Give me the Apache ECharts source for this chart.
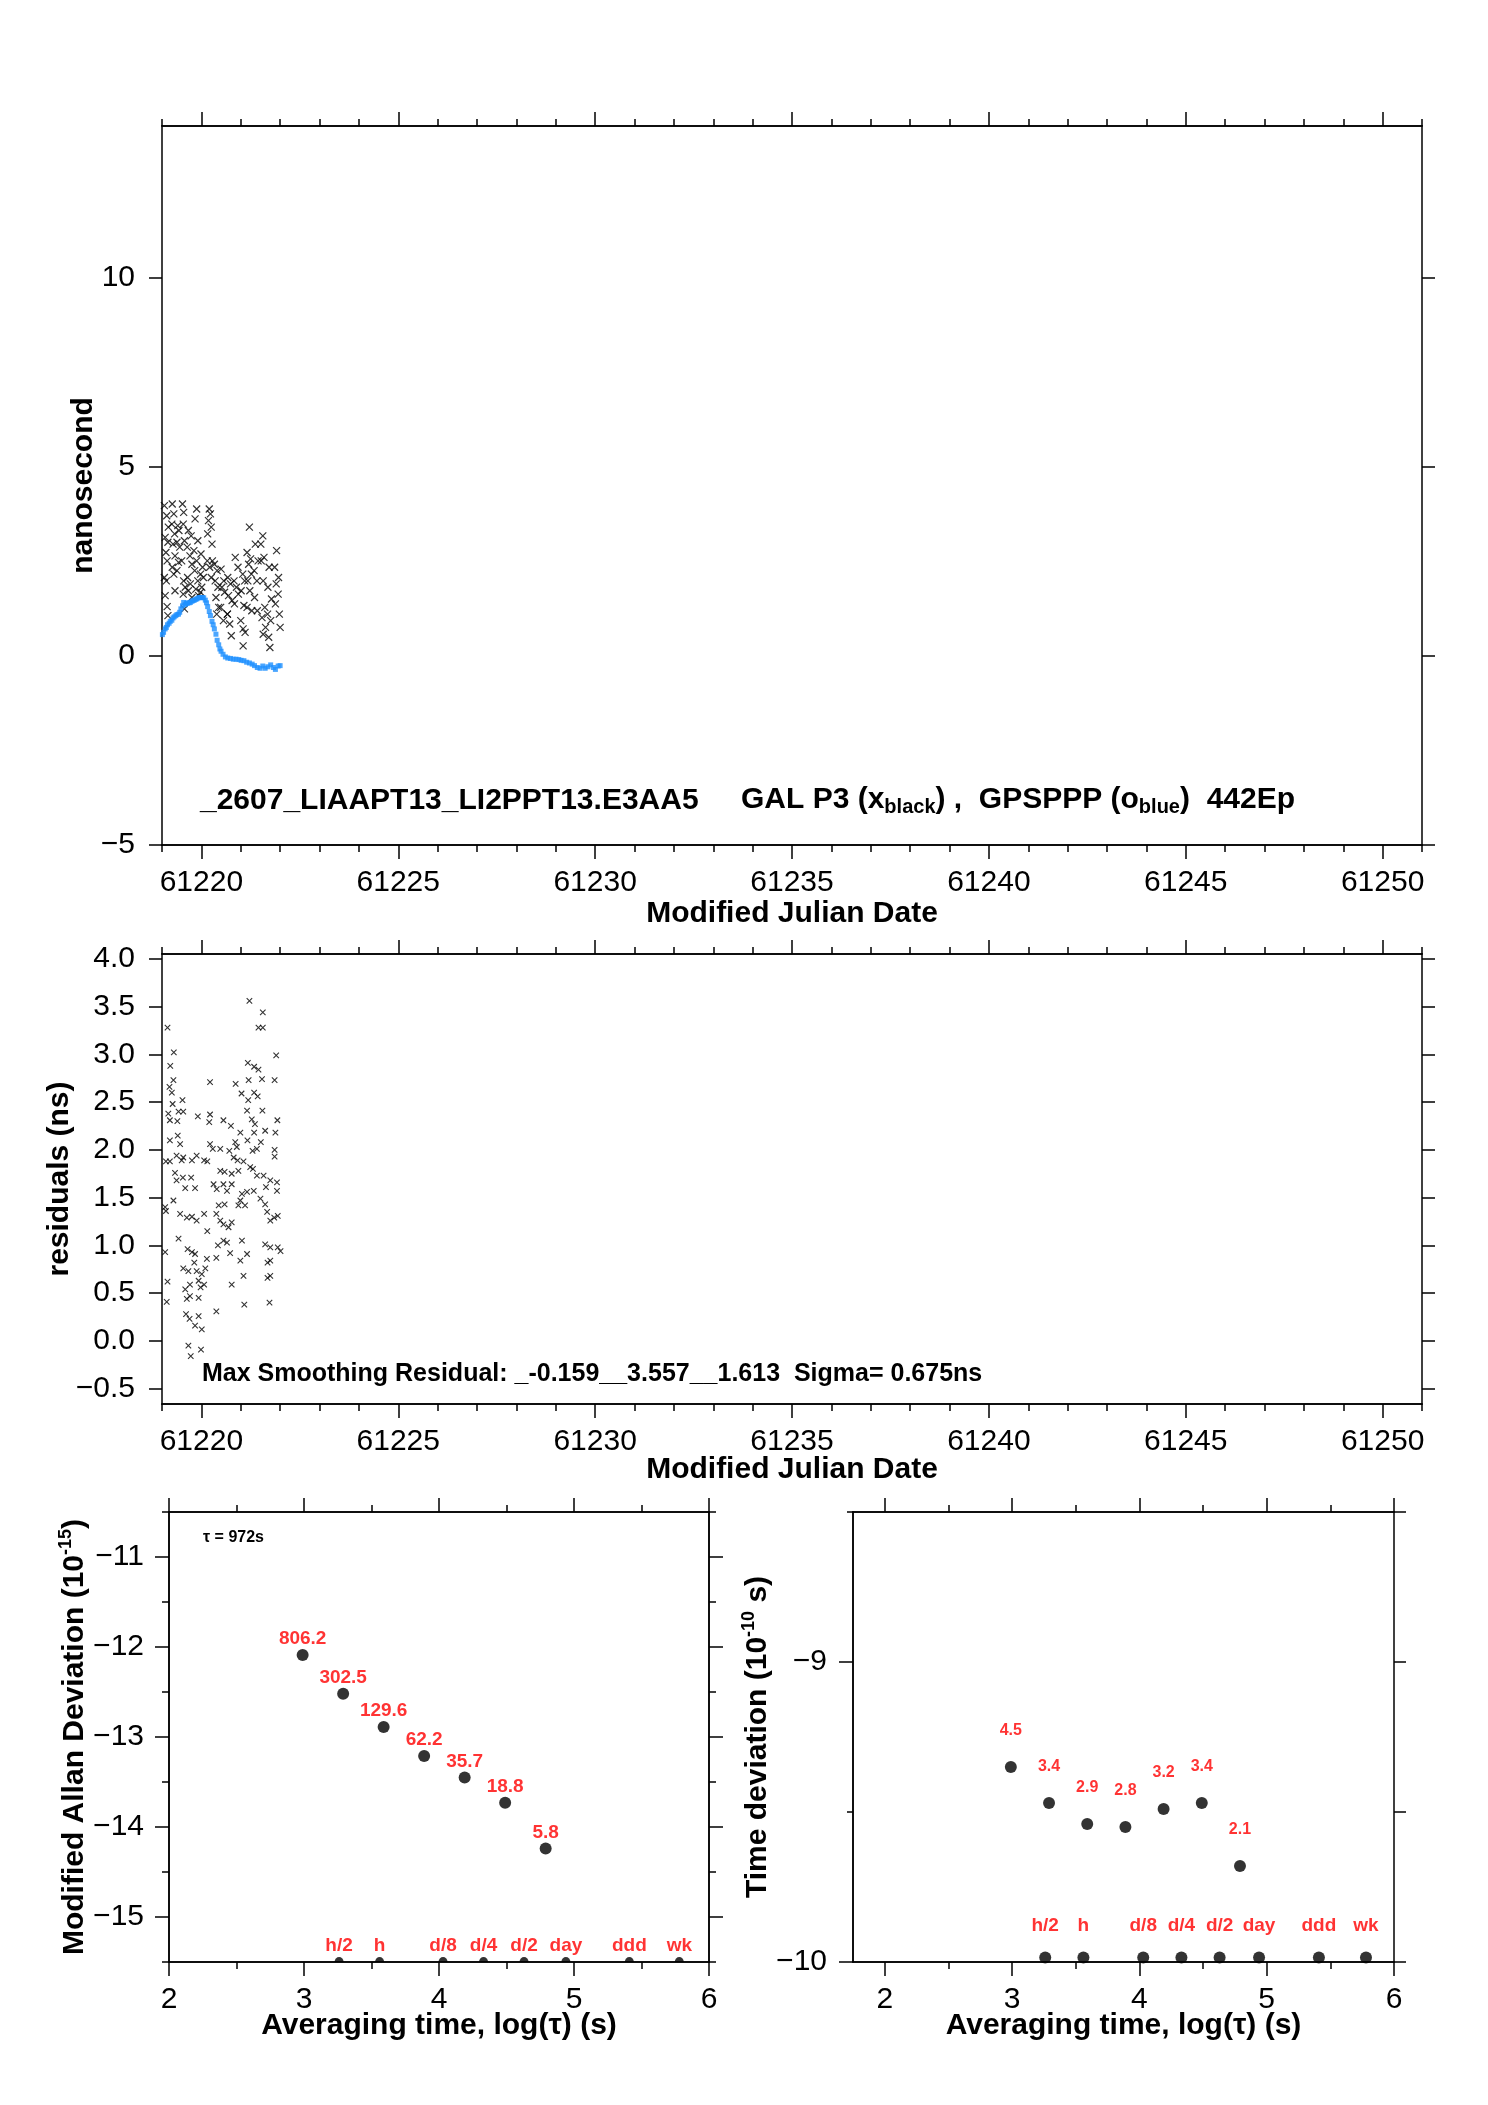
<!DOCTYPE html>
<html>
<head>
<meta charset="utf-8">
<script src="https://cdn.jsdelivr.net/npm/echarts@6/dist/echarts.min.js"></script>
<style>
html, body { margin: 0; padding: 0; background: #fff; }
#chart { width: 1488px; height: 2105px; }
</style>
</head>
<body>
<div id="chart"></div>
<script>
// GAL P3 clock differences (MJD, ns)
var galP3 = [
  [61219.06,3.97],[61219.12,3.70],[61219.16,3.40],[61219.08,3.13],[61219.15,3.00],[61219.10,2.73],
  [61219.13,2.51],[61219.06,2.07],[61219.11,1.98],[61219.08,1.59],[61219.13,1.30],[61219.15,1.06],
  [61219.26,4.01],[61219.30,3.75],[61219.25,3.48],[61219.32,3.22],[61219.28,2.95],[61219.33,2.64],
  [61219.26,2.34],[61219.30,2.16],[61219.33,1.72],
  [61219.40,3.44],[61219.43,3.31],[61219.38,3.00],[61219.45,2.87],[61219.42,2.47],[61219.38,2.25],
  [61219.52,4.01],[61219.55,3.79],[61219.54,3.48],[61219.57,3.04],[61219.50,2.51],[61219.55,1.98],
  [61219.59,1.81],[61219.54,1.63],[61219.57,1.24],
  [61219.67,3.31],[61219.74,3.17],[61219.64,2.87],[61219.71,2.64],[61219.76,2.42],[61219.65,2.07],
  [61219.72,1.90],[61219.67,1.72],[61219.76,1.54],
  [61219.88,3.88],[61219.84,3.62],[61219.91,3.04],[61219.81,2.78],[61219.88,2.51],[61219.83,2.25],
  [61219.91,1.98],[61219.86,1.76],[61219.93,1.59],
  [61219.99,2.69],[61220.03,2.34],[61219.98,2.16],[61220.05,2.07],[61220.01,1.81],[61219.98,1.68],
  [61220.20,3.88],[61220.23,3.75],[61220.18,3.57],[61220.25,3.40],[61220.16,3.22],[61220.27,2.95],
  [61220.15,2.51],[61220.28,2.51],[61220.21,2.34],[61220.25,2.07],
  [61220.33,2.42],[61220.40,2.25],[61220.35,1.98],[61220.42,1.81],[61220.37,1.54],[61220.44,1.28],[61220.39,1.10],
  [61220.50,2.29],[61220.57,1.98],[61220.52,1.81],[61220.59,1.68],[61220.49,1.28],[61220.66,1.10],[61220.56,0.93],
  [61220.67,2.07],[61220.74,1.90],[61220.69,1.59],[61220.78,1.46],[61220.66,1.10],[61220.72,0.84],[61220.76,0.53],
  [61220.86,2.60],[61220.93,2.34],[61220.83,1.98],[61220.89,1.81],[61220.94,1.63],[61220.84,1.37],
  [61221.05,2.16],[61221.10,1.98],[61221.01,1.72],[61221.08,1.33],[61221.00,0.93],[61221.06,0.71],
  [61221.11,0.62],[61221.06,0.26],
  [61221.22,3.40],[61221.16,2.73],[61221.25,2.56],[61221.20,2.42],[61221.27,2.16],[61221.18,1.98],
  [61221.23,1.72],[61221.16,1.28],[61221.28,1.19],
  [61221.37,2.95],[61221.44,2.51],[61221.34,2.25],[61221.41,1.98],[61221.35,1.54],[61221.42,1.19],
  [61221.56,3.17],[61221.51,2.95],[61221.59,2.60],[61221.52,2.51],[61221.57,1.98],[61221.61,1.28],
  [61221.54,1.01],[61221.63,0.75],[61221.57,0.57],
  [61221.72,2.34],[61221.69,1.81],[61221.78,1.50],[61221.68,1.10],[61221.76,0.93],[61221.71,0.49],[61221.74,0.22],
  [61221.91,2.78],[61221.86,2.34],[61221.96,2.07],[61221.90,1.90],[61221.95,1.63],[61221.88,1.37],
  [61221.98,1.10],[61222.00,0.75]
];

// GPSPPP clock differences (MJD, ns)
var gpsPPP = [
  [61219.01,0.56],[61219.04,0.62],[61219.08,0.71],[61219.11,0.75],[61219.14,0.82],[61219.18,0.86],
  [61219.21,0.91],[61219.25,0.94],[61219.28,1.00],[61219.31,1.03],[61219.35,1.06],[61219.38,1.09],
  [61219.42,1.10],[61219.45,1.15],[61219.48,1.24],[61219.52,1.32],[61219.55,1.41],[61219.59,1.35],
  [61219.62,1.39],[61219.65,1.39],[61219.69,1.40],[61219.72,1.41],[61219.76,1.44],[61219.79,1.46],
  [61219.82,1.47],[61219.86,1.49],[61219.89,1.51],[61219.93,1.53],[61219.96,1.54],[61219.99,1.54],
  [61220.03,1.54],[61220.06,1.53],[61220.10,1.47],[61220.13,1.40],[61220.16,1.30],[61220.20,1.17],
  [61220.23,1.06],[61220.27,0.91],[61220.30,0.82],[61220.33,0.71],[61220.37,0.57],[61220.40,0.41],
  [61220.44,0.29],[61220.47,0.18],[61220.50,0.12],[61220.55,0.04],[61220.61,-0.03],[61220.67,-0.06],
  [61220.74,-0.07],[61220.81,-0.09],[61220.88,-0.09],[61220.95,-0.10],[61221.01,-0.12],[61221.08,-0.13],
  [61221.15,-0.17],[61221.22,-0.19],[61221.29,-0.22],[61221.35,-0.26],[61221.42,-0.31],[61221.49,-0.33],
  [61221.56,-0.27],[61221.62,-0.33],[61221.69,-0.29],[61221.76,-0.24],[61221.83,-0.31],[61221.88,-0.36],
  [61221.95,-0.27],[61222.00,-0.26]
];

// smoothing residuals (MJD, ns)
var residuals = [
  [61221.22,3.56],[61221.56,3.44],[61221.45,3.28],[61221.56,3.28],[61219.14,3.28],[61221.90,2.99],
  [61219.30,3.02],[61219.21,2.88],[61221.18,2.91],[61221.34,2.87],[61221.45,2.84],[61219.29,2.73],
  [61220.22,2.71],[61220.87,2.69],[61221.20,2.73],[61221.54,2.74],[61221.86,2.73],[61219.19,2.66],
  [61219.25,2.60],[61221.02,2.59],[61221.34,2.60],[61221.19,2.52],[61221.43,2.56],[61219.52,2.52],
  [61219.27,2.48],[61221.55,2.41],[61221.16,2.41],[61219.16,2.38],[61219.42,2.40],[61219.54,2.40],
  [61219.91,2.35],[61220.22,2.37],[61220.56,2.31],[61220.20,2.29],[61219.20,2.31],[61219.39,2.30],
  [61221.28,2.32],[61221.36,2.27],[61221.93,2.31],[61220.75,2.25],[61221.62,2.20],[61220.99,2.18],
  [61221.34,2.18],[61221.88,2.18],[61221.51,2.08],[61219.40,2.15],[61219.20,2.10],[61219.46,2.06],
  [61220.22,2.06],[61220.29,2.01],[61220.48,2.01],[61220.86,2.08],[61220.90,2.03],[61221.17,2.10],
  [61221.30,1.99],[61221.41,2.01],[61221.86,2.00],[61221.86,1.93],[61219.10,1.88],[61219.20,1.88],
  [61219.37,1.94],[61219.50,1.89],[61219.54,1.92],[61219.76,1.89],[61219.88,1.94],[61220.07,1.89],
  [61220.15,1.88],[61220.71,1.99],[61220.82,1.92],[61220.92,1.89],[61221.07,1.88],[61220.48,1.78],
  [61220.59,1.77],[61220.77,1.75],[61220.94,1.78],[61221.24,1.82],[61221.31,1.80],[61221.41,1.73],
  [61221.58,1.73],[61219.33,1.76],[61219.37,1.68],[61219.53,1.71],[61219.74,1.71],[61219.59,1.60],
  [61219.84,1.60],[61220.31,1.64],[61220.39,1.59],[61220.56,1.64],[61220.65,1.57],[61220.77,1.64],
  [61221.03,1.54],[61221.16,1.56],[61221.33,1.57],[61221.50,1.49],[61221.64,1.61],[61221.75,1.68],
  [61221.92,1.66],[61221.92,1.57],[61219.29,1.47],[61219.08,1.40],[61219.10,1.36],[61219.46,1.33],
  [61219.63,1.29],[61219.76,1.30],[61219.88,1.26],[61220.07,1.33],[61220.15,1.15],[61220.38,1.33],
  [61220.44,1.42],[61220.59,1.43],[61220.48,1.26],[61220.56,1.22],[61220.69,1.19],[61220.77,1.24],
  [61220.99,1.47],[61220.94,1.42],[61221.11,1.42],[61221.62,1.43],[61221.67,1.35],[61221.75,1.26],
  [61221.85,1.29],[61221.94,1.31],[61219.42,1.07],[61219.65,0.96],[61219.76,0.93],[61219.84,0.91],
  [61220.14,0.86],[61220.38,0.87],[61220.42,1.00],[61220.56,1.05],[61220.65,1.03],[61220.73,0.92],
  [61221.03,1.05],[61221.16,0.91],[61221.62,1.01],[61221.75,0.98],[61221.94,0.98],[61222.01,0.94],
  [61219.08,0.93],[61219.54,0.76],[61219.67,0.73],[61219.82,0.82],[61219.88,0.73],[61220.01,0.70],
  [61220.10,0.76],[61220.99,0.84],[61221.68,0.82],[61221.75,0.84],[61221.68,0.66],[61221.75,0.68],
  [61219.14,0.62],[61219.59,0.54],[61219.71,0.59],[61219.93,0.63],[61219.98,0.56],[61220.07,0.59],
  [61220.77,0.59],[61221.07,0.68],[61219.12,0.41],[61219.63,0.44],[61219.71,0.47],[61219.93,0.45],
  [61220.38,0.31],[61221.09,0.38],[61221.73,0.40],[61219.61,0.28],[61219.70,0.23],[61219.84,0.16],
  [61219.93,0.26],[61220.01,0.12],[61219.67,-0.05],[61219.99,-0.09],[61219.73,-0.16]
];

// stability, log10 of averaging time
var tauLog = [2.99, 3.29, 3.59, 3.89, 4.19, 4.49, 4.79];
var adevLog = [-12.09, -12.52, -12.89, -13.21, -13.45, -13.73, -14.24];
var adevLabels = ['806.2', '302.5', '129.6', '62.2', '35.7', '18.8', '5.8'];
var tdevLog = [-9.35, -9.47, -9.54, -9.55, -9.49, -9.47, -9.68];
var tdevLabels = ['4.5', '3.4', '2.9', '2.8', '3.2', '3.4', '2.1'];
var spanLog = [3.26, 3.56, 4.03, 4.33, 4.63, 4.94, 5.41, 5.78];
var spanLabels = ['h/2', 'h', 'd/8', 'd/4', 'd/2', 'day', 'ddd', 'wk'];

// ticks
var mjdTicks = [61220, 61225, 61230, 61235, 61240, 61245, 61250];
var nsTicks = [-5, 0, 5, 10];
var resTicks = [-0.5, 0, 0.5, 1, 1.5, 2, 2.5, 3, 3.5, 4];
var logTicks = [2, 3, 4, 5, 6];
var logMinor = [2.5, 3.5, 4.5, 5.5];
var adevTicks = [-15, -14, -13, -12, -11];
var adevMinor = [-15.5, -14.5, -13.5, -12.5, -11.5, -10.5];
var tdevTicks = [-10, -9];
var tdevMinor = [-9.5, -8.5];
var tdevRight = [-10, -9.5, -9, -8.5];

var mjdMinor = [];
for (var d = 61219; d <= 61251; d++) { if (d % 5 !== 0) mjdMinor.push(d); }

var FONT = "'Liberation Sans', Arial, Helvetica, sans-serif";

function minus(v) { return (v < 0 ? '\u2212' : '') + Math.abs(v); }
function minus1(v) { return (v < 0 ? '\u2212' : '') + Math.abs(v).toFixed(1); }

function mkAxis(grid, pos, min, max, ticks, len, labels, fmt, margin) {
  return {
    type: 'value', gridIndex: grid, position: pos, min: min, max: max,
    axisLine: { show: true, onZero: false, lineStyle: { color: '#000', width: 1.5 } },
    axisTick: { show: true, inside: false, length: len, customValues: ticks, lineStyle: { color: '#000', width: 1.5 } },
    axisLabel: {
      show: !!labels, customValues: labels || [], formatter: fmt,
      color: '#000', fontSize: 30, fontFamily: FONT, margin: margin || 23
    },
    splitLine: { show: false }
  };
}

var xAxes = [], yAxes = [];
function addX(a) { xAxes.push(a); return xAxes.length - 1; }
function addY(a) { yAxes.push(a); return yAxes.length - 1; }
function nameOf(a, name, gap, rich) {
  a.name = name; a.nameLocation = 'middle'; a.nameGap = gap;
  a.nameMoveOverlap = false;
  a.nameTextStyle = { color: '#000', fontSize: 30, fontWeight: 'bold', fontFamily: FONT, rich: rich };
  return a;
}

var supRich = {
  m: { fontSize: 30, fontWeight: 'bold', fontFamily: FONT, lineHeight: 33, verticalAlign: 'bottom' },
  p: { fontSize: 18, fontWeight: 'bold', fontFamily: FONT, lineHeight: 20, verticalAlign: 'top' }
};

// grid 0: clock differences
var x0 = addX(nameOf(mkAxis(0, 'bottom', 61219, 61251, mjdTicks, 14, mjdTicks, minus), 'Modified Julian Date', 54));
addX(mkAxis(0, 'bottom', 61219, 61251, mjdMinor, 7));
addX(mkAxis(0, 'top', 61219, 61251, mjdTicks, 14));
addX(mkAxis(0, 'top', 61219, 61251, mjdMinor, 7));
var y0 = addY(nameOf(mkAxis(0, 'left', -5, 14, nsTicks, 13, nsTicks, minus, 27), 'nanosecond', 63));
addY(mkAxis(0, 'right', -5, 14, nsTicks, 13));

// grid 1: residuals
var x1 = addX(nameOf(mkAxis(1, 'bottom', 61219, 61251, mjdTicks, 14, mjdTicks, minus), 'Modified Julian Date', 51));
addX(mkAxis(1, 'bottom', 61219, 61251, mjdMinor, 7));
addX(mkAxis(1, 'top', 61219, 61251, mjdTicks, 14));
addX(mkAxis(1, 'top', 61219, 61251, mjdMinor, 7));
var y1 = addY(nameOf(mkAxis(1, 'left', -0.66, 4.05, resTicks, 13, resTicks, minus1, 27), 'residuals (ns)', 87));
addY(mkAxis(1, 'right', -0.66, 4.05, resTicks, 13));

// grid 2: modified Allan deviation
var x2 = addX(nameOf(mkAxis(2, 'bottom', 2, 6, logTicks, 14, logTicks, minus), 'Averaging time, log(\u03c4) (s)', 49));
addX(mkAxis(2, 'bottom', 2, 6, logMinor, 7));
addX(mkAxis(2, 'top', 2, 6, logTicks, 14));
addX(mkAxis(2, 'top', 2, 6, logMinor, 7));
var y2 = addY(nameOf(mkAxis(2, 'left', -15.5, -10.5, adevTicks, 14, adevTicks, minus, 25),
  '{m|Modified Allan Deviation (10}{p|-15}{m|)}', 79, supRich));
addY(mkAxis(2, 'left', -15.5, -10.5, adevMinor, 7));
addY(mkAxis(2, 'right', -15.5, -10.5, adevTicks, 14));
addY(mkAxis(2, 'right', -15.5, -10.5, adevMinor, 7));

// grid 3: time deviation
var x3 = addX(nameOf(mkAxis(3, 'bottom', 1.75, 6, logTicks, 14, logTicks, minus), 'Averaging time, log(\u03c4) (s)', 49));
addX(mkAxis(3, 'bottom', 1.75, 6, logMinor, 7));
addX(mkAxis(3, 'top', 1.75, 6, logTicks, 14));
addX(mkAxis(3, 'top', 1.75, 6, logMinor, 7));
var y3 = addY(nameOf(mkAxis(3, 'left', -10, -8.5, tdevTicks, 14, tdevTicks, minus, 26),
  '{m|Time deviation (10}{p|-10}{m| s)}', 80, supRich));
addY(mkAxis(3, 'left', -10, -8.5, tdevMinor, 6));
addY(mkAxis(3, 'right', -10, -8.5, tdevRight, 12));

var xMark = 'path://M0 0L10 10M10 0L0 10';
var halfDot = 'path://M0 10A10 10 0 0 1 20 10Z';
var red = '#ff0000';

function redLabel(texts, size, dy) {
  return {
    show: true, position: 'inside', offset: [0, dy], color: red,
    fontSize: size, fontWeight: 'bold', fontFamily: FONT,
    formatter: function (p) { return texts[p.dataIndex]; }
  };
}

var myChart = echarts.init(document.getElementById('chart'));
myChart.setOption({
  backgroundColor: '#fff',
  animation: false,
  grid: [
    { left: 162, top: 126, width: 1260, height: 719, outerBoundsMode: 'none' },
    { left: 162, top: 954, width: 1260, height: 450, outerBoundsMode: 'none' },
    { left: 169, top: 1512, width: 540, height: 450, outerBoundsMode: 'none' },
    { left: 853, top: 1512, width: 541, height: 450, outerBoundsMode: 'none' }
  ],
  xAxis: xAxes,
  yAxis: yAxes,
  graphic: [
    { type: 'text', x: 200, y: 801, silent: true,
      style: { text: '_2607_LIAAPT13_LI2PPT13.E3AA5', fontSize: 30, fontWeight: 'bold', fontFamily: FONT,
        fill: '#000', verticalAlign: 'middle' } },
    { type: 'text', x: 741, y: 801, silent: true,
      style: { text: '{m|GAL P3 (x}{s|black}{m|) ,  GPSPPP (o}{s|blue}{m|)  442Ep}',
        fill: '#000', verticalAlign: 'middle',
        rich: {
          m: { fontSize: 30, fontWeight: 'bold', fontFamily: FONT, lineHeight: 33, verticalAlign: 'top' },
          s: { fontSize: 20, fontWeight: 'bold', fontFamily: FONT, lineHeight: 22, padding: [16, 0, 0, 0], verticalAlign: 'bottom' }
        } } },
    { type: 'text', x: 202, y: 1374, silent: true,
      style: { text: 'Max Smoothing Residual: _-0.159__3.557__1.613  Sigma= 0.675ns',
        fontSize: 25, fontWeight: 'bold', fontFamily: FONT, fill: '#000', verticalAlign: 'middle' } },
    { type: 'text', x: 203, y: 1538, silent: true,
      style: { text: '\u03c4 = 972s', fontSize: 16, fontWeight: 'bold', fontFamily: FONT, fill: '#000', verticalAlign: 'middle' } }
  ],
  series: [
    {
      type: 'scatter', xAxisIndex: x0, yAxisIndex: y0, data: galP3, silent: true,
      symbol: xMark, symbolSize: 7,
      itemStyle: { color: 'rgba(0,0,0,0)', borderColor: '#000', borderWidth: 1.2 }
    },
    {
      type: 'scatter', xAxisIndex: x0, yAxisIndex: y0, data: gpsPPP, silent: true,
      symbol: 'rect', symbolSize: 5, itemStyle: { color: '#1e90ff' }
    },
    {
      type: 'scatter', xAxisIndex: x1, yAxisIndex: y1, data: residuals, silent: true,
      symbol: xMark, symbolSize: 5.5,
      itemStyle: { color: 'rgba(0,0,0,0)', borderColor: '#000', borderWidth: 1.1 }
    },
    {
      type: 'scatter', xAxisIndex: x2, yAxisIndex: y2, silent: true,
      data: tauLog.map(function (t, i) { return [t, adevLog[i]]; }),
      symbol: 'circle', symbolSize: 12, itemStyle: { color: '#000' },
      label: redLabel(adevLabels, 19, -16)
    },
    {
      type: 'scatter', xAxisIndex: x2, yAxisIndex: y2, silent: true,
      data: spanLog.map(function (t) { return [t, -15.5]; }),
      symbol: halfDot, symbolSize: [9, 5], symbolOffset: [0, -2.5], itemStyle: { color: '#000' },
      label: redLabel(spanLabels, 19, -14)
    },
    {
      type: 'scatter', xAxisIndex: x3, yAxisIndex: y3, silent: true,
      data: tauLog.map(function (t, i) { return [t, tdevLog[i]]; }),
      symbol: 'circle', symbolSize: 12, itemStyle: { color: '#000' },
      label: redLabel(tdevLabels, 16, -36)
    },
    {
      type: 'scatter', xAxisIndex: x3, yAxisIndex: y3, silent: true,
      data: spanLog.map(function (t) { return [t, -9.985]; }),
      symbol: 'circle', symbolSize: 12, itemStyle: { color: '#000' },
      label: redLabel(spanLabels, 19, -32)
    }
  ]
});
</script>
</body>
</html>
